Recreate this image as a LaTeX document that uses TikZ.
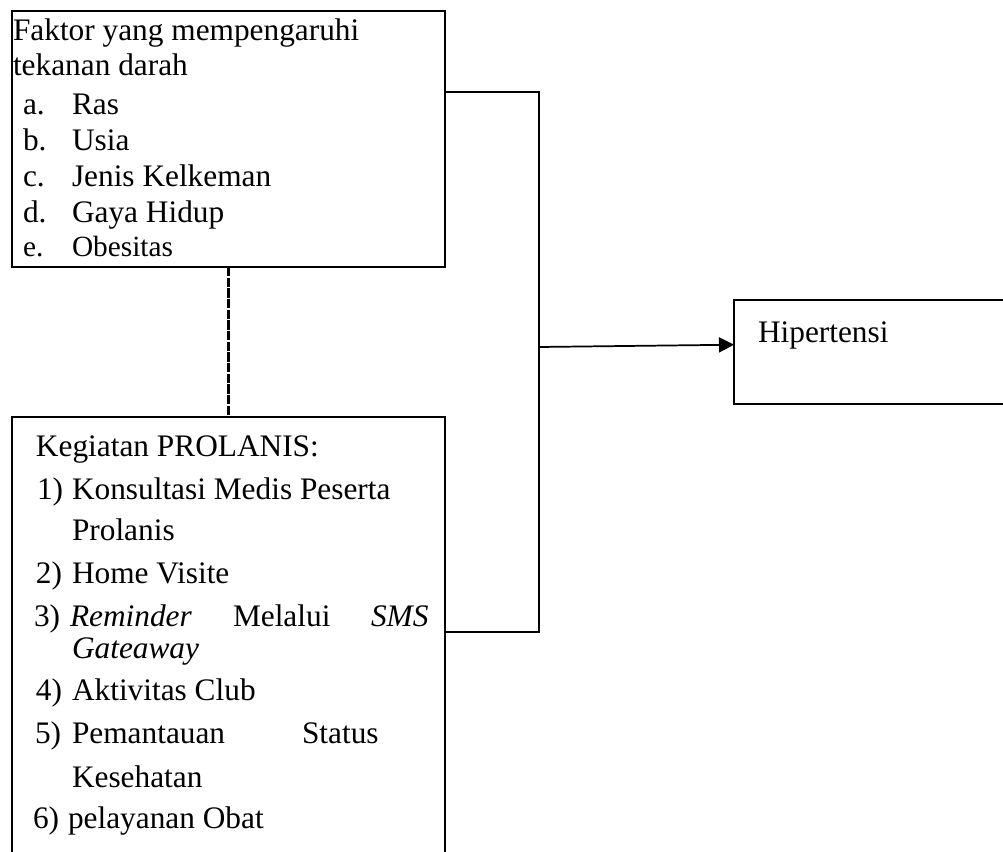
\documentclass[tikz,border=0pt]{standalone}
\usepackage{fontspec}
\setmainfont{Liberation Serif}
\usetikzlibrary{arrows.meta,calc}
\begin{document}
\begin{tikzpicture}[x=0.75pt,y=-0.75pt,
  boxline/.style={draw=black,line width=1.5pt,fill=none,inner sep=0pt,outer sep=0pt,anchor=north west},
  txt/.style={inner sep=0pt,outer sep=0pt,anchor=base west,font=\fontsize{23.5}{28}\selectfont},
  smalltxt/.style={txt,font=\fontsize{22}{26}\selectfont},
  conn/.style={draw=black,line width=1.5pt},
  dashconn/.style={draw=black,line width=1.7pt,dash pattern=on 7pt off 1pt}
]
\clip (0,0) rectangle (1003,852);
\fill[white] (0,0) rectangle (1003,852);

% boxes
\node[boxline,minimum width=433*0.75pt,minimum height=256*0.75pt] (top) at (12,11) {};
\node[boxline,minimum width=433*0.75pt,minimum height=480*0.75pt] (bot) at (12,417) {};
\node[boxline,minimum width=300*0.75pt,minimum height=104*0.75pt] (hip) at (734,300) {};

% top box text
\node[txt] (t1) at (13,41) {Faktor yang mempengaruhi};
\node[txt] (t2) at (13,76) {tekanan darah};
\node[txt] (ta) at (23,115) {a.};
\node[txt] (tas) at (72,115) {Ras};
\node[txt] (tb) at (23,151) {b.};
\node[txt] (tbs) at (72,151) {Usia};
\node[txt] (tc) at (23,187) {c.};
\node[txt] (tcs) at (72,187) {Jenis Kelkeman};
\node[txt] (td) at (23,223) {d.};
\node[txt] (tds) at (72,223) {Gaya Hidup};
\node[smalltxt] (te) at (23,257) {e.};
\node[smalltxt] (tes) at (72,257) {Obesitas};

% bottom box text
\node[txt] (b0) at (36,456) {Kegiatan PROLANIS:};
\node[txt] (b1) at (37,499) {1)};
\node[txt] (b1s) at (72,499) {Konsultasi Medis Peserta};
\node[txt] (b1t) at (72,540) {Prolanis};
\node[txt] (b2) at (36,583) {2)};
\node[txt] (b2s) at (72,583) {Home Visite};
\node[txt] (b3) at (34,626) {3)};
\node[txt] (b3a) at (70,626) {\textit{Reminder}};
\node[txt] (b3b) at (233,626) {Melalui};
\node[txt] (b3c) at (371,626) {\textit{SMS}};
\node[txt] (b3t) at (72,658) {\textit{Gateaway}};
\node[txt] (b4) at (36,700) {4)};
\node[txt] (b4s) at (72,700) {Aktivitas Club};
\node[txt] (b5) at (35,743) {5)};
\node[txt] (b5a) at (72,743) {Pemantauan};
\node[txt] (b5b) at (302,743) {Status};
\node[txt] (b5t) at (72,787) {Kesehatan};
\node[txt] (b6) at (33,828) {6)};
\node[txt] (b6s) at (68,828) {pelayanan Obat};

% Hipertensi
\node[txt] (h1) at (758,342) {Hipertensi};

% connectors
\coordinate (j1) at (539,92);
\coordinate (j2) at (539,632);
\coordinate (j3) at (539,347);
\draw[conn] (top.east |- j1) -- (j1) -- (j2) -- (bot.east |- j2);
\draw[draw=black,line width=1.3pt,-{Triangle[length=15*0.75pt,width=15*0.75pt]}]
  (j3) -- ($(hip.north west)!0.43!(hip.south west)$);
\draw[dashconn] (top.south) -- (bot.north);
\end{tikzpicture}
\end{document}
